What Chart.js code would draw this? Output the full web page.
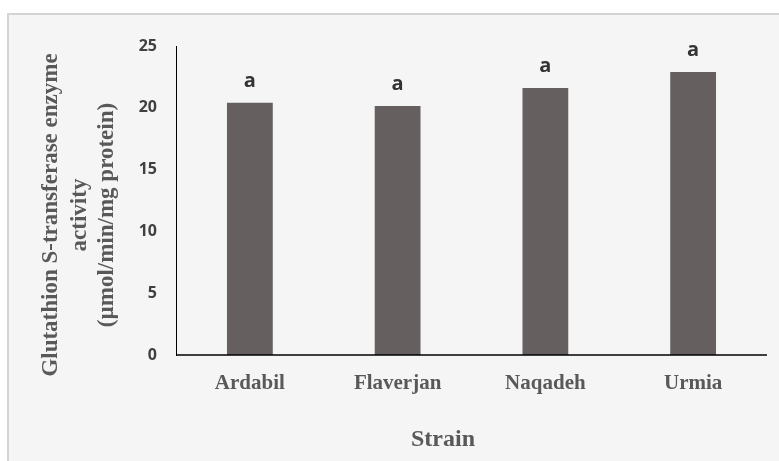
<!DOCTYPE html>
<html>
<head>
<meta charset="utf-8">
<script src="https://cdn.jsdelivr.net/npm/chart.js@4"></script>
<style>
  html, body { margin: 0; padding: 0; background: #fff; overflow: hidden; }
  .frame {
    position: absolute; left: 7px; top: 13px; width: 780px; height: 460px;
    border: 2px solid #d4d4d4; background: #f5f5f5;
  }
  #wrap { position: absolute; left: 0; top: 0; width: 779px; height: 461px; }
</style>
</head>
<body>
<div class="frame"></div>
<div id="wrap"><canvas id="gstChart" width="779" height="461"></canvas></div>
<script>
(function () {
  'use strict';

  const strains  = ['Ardabil', 'Flaverjan', 'Naqadeh', 'Urmia'];
  const activity = [20.4, 20.15, 21.6, 22.9];
  const letters  = ['a', 'a', 'a', 'a'];
  const yTicks   = [0, 5, 10, 15, 20, 25];

  const BAR   = '#655f5f';
  const TICK  = '#404040';
  const LABEL = '#595959';

  /* ─── significance letters above bars ─── */
  const letterPlugin = {
    id: 'letters',
    afterDatasetsDraw: function (chart) {
      const ctx = chart.ctx;
      const meta = chart.getDatasetMeta(0);
      ctx.save();
      ctx.font = 'bold 20px "Open Sans"';
      ctx.fillStyle = '#333333';
      ctx.textAlign = 'center';
      ctx.textBaseline = 'middle';
      meta.data.forEach(function (bar, i) {
        ctx.fillText(letters[i], bar.x, bar.y - 22);
      });
      ctx.restore();
    }
  };

  /* ─── x axis line + axis titles ─── */
  const titlePlugin = {
    id: 'axisTitles',
    afterDraw: function (chart) {
      const ctx = chart.ctx;
      const area = chart.chartArea;
      ctx.save();
      ctx.strokeStyle = '#000';
      ctx.lineWidth = 1.5;
      ctx.beginPath();
      ctx.moveTo(area.left, area.bottom);
      ctx.lineTo(area.right, area.bottom);
      ctx.stroke();

      ctx.fillStyle = LABEL;
      ctx.textAlign = 'center';
      ctx.textBaseline = 'alphabetic';
      ctx.font = 'bold 24px "Liberation Serif"';
      ctx.fillText('Strain', area.left + 267, area.bottom + 91);

      ctx.translate(0, area.top + 169);
      ctx.rotate(-Math.PI / 2);
      ctx.font = 'bold 23px "Liberation Serif"';
      ctx.fillText('Glutathion S-transferase enzyme', 0, 57);
      ctx.fillText('activity', 0, 86);
      ctx.fillText('(\u00b5mol/min/mg protein)', 0, 113);
      ctx.restore();
    }
  };

  new Chart(document.getElementById('gstChart'), {
    type: 'bar',
    data: {
      labels: strains,
      datasets: [{
        data: activity,
        backgroundColor: BAR,
        categoryPercentage: 1,
        barPercentage: 0.31
      }]
    },
    options: {
      responsive: false,
      animation: false,
      devicePixelRatio: 1,
      layout: { padding: { top: 46, right: 12, left: 0, bottom: 0 } },
      plugins: { legend: { display: false }, tooltip: { enabled: false } },
      scales: {
        x: {
          grid: { display: false, drawTicks: false },
          border: { display: false },
          ticks: {
            color: LABEL,
            padding: 16,
            font: { family: '"Liberation Serif"', size: 21, weight: 'bold' }
          },
          afterFit: function (s) { s.height = 106; }
        },
        y: {
          min: 0,
          max: 25,
          afterBuildTicks: function (s) { s.ticks = yTicks.map(function (v) { return { value: v }; }); },
          grid: { display: false, drawTicks: false },
          border: { color: '#000', width: 1 },
          ticks: {
            color: TICK,
            padding: 19,
            font: { family: '"Open Sans"', size: 16, weight: 'bold' }
          },
          afterFit: function (s) { s.width = 176; }
        }
      }
    },
    plugins: [letterPlugin, titlePlugin]
  });
})();
</script>
</body>
</html>
